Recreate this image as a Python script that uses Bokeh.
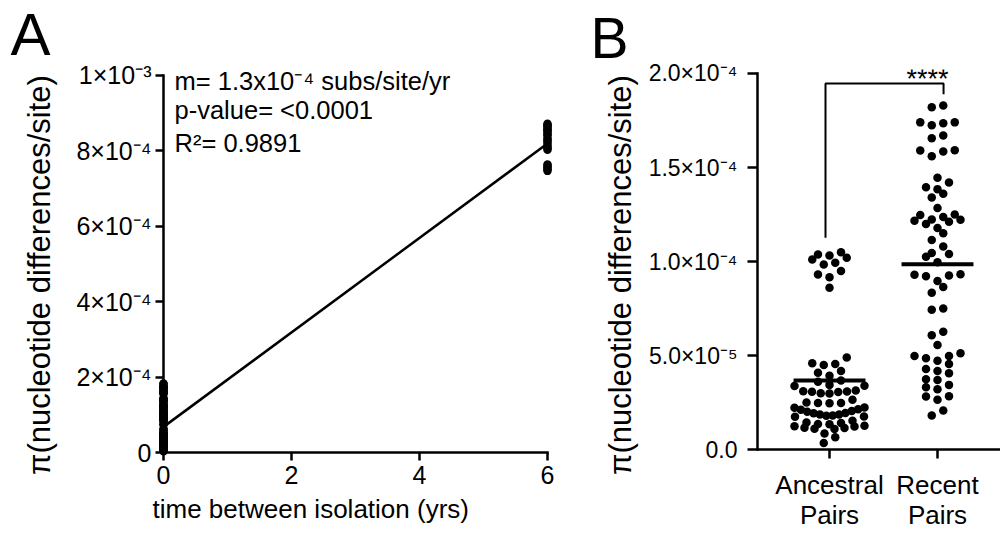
import numpy as np
from bokeh.plotting import figure
from bokeh.models import Label, FixedTicker, LinearAxis, Title
from bokeh.layouts import row
from bokeh.embed import file_html
from bokeh.resources import INLINE

FONT = "Liberation Sans"

# ---------------- data ----------------
# panel B: nucleotide diversity pi (x1e-5 subs/site)
ancestral_pairs = np.array([
    10.49, 10.32, 10.11, 9.84, 9.93, 10.2, 10.37, 9.31, 9.17, 9.49, 8.61,
    4.9, 4.5, 4.55, 4.59, 4.09, 4.18, 3.92,
    3.67, 3.44, 3.4, 3.61, 3.38,
    3.07, 3.09, 3.06, 3.1, 3.14,
    3.0, 2.98,
    2.5, 2.47, 2.46, 2.48, 2.65,
    2.24, 2.12, 2.01, 1.94, 1.87, 1.81, 1.76, 1.75, 1.8, 1.86, 1.93, 2.05, 2.15, 2.23,
    1.53, 1.44, 1.36, 1.23, 1.15, 1.24, 1.27, 1.35, 1.41,
    0.85, 1.11, 1.1, 1.16,
    0.65, 0.35]) * 1e-5

recent_pairs = np.array([
    18.3, 18.2,
    17.4, 17.35, 17.25, 17.4,
    16.55, 16.7,
    15.9, 15.85, 15.6, 15.92,
    14.45, 14.2, 13.85, 13.95, 13.6, 13.4,
    12.85,
    12.5, 12.22, 12.0, 12.17, 12.12, 12.24, 12.37, 12.48,
    11.78, 11.5, 11.15,
    10.8, 10.45, 10.25, 10.4,
    9.96,
    9.3, 9.22, 9.26, 9.32, 8.96, 8.64, 8.34,
    7.5, 7.44,
    6.26, 6.08, 5.56,
    5.12, 4.97, 4.72, 4.85, 4.98, 4.55,
    4.18, 4.06, 4.29,
    3.7, 3.74,
    3.21, 3.32, 3.44,
    2.82, 2.65, 2.83,
    1.81, 2.08]) * 1e-5

# panel A: pairs separated by 6 years of isolation (x1e-4 subs/site)
six_year_pairs = np.array([
    8.72, 8.68, 8.66, 8.61, 8.57, 8.55, 8.49, 8.44, 8.40, 8.33, 8.29,
    8.24, 8.18, 8.12, 8.07, 8.03, 7.64, 7.60, 7.55, 7.51, 7.47]) * 1e-4

time_isolation = [0, 6]  # years between isolation for the two groups in panel A

a_y_ticks = [0, 0.0002, 0.0004, 0.0006, 0.0008, 0.001]
a_y_labels = ["0", "2×10⁻⁴", "4×10⁻⁴", "6×10⁻⁴", "8×10⁻⁴", "1×10⁻³"]
a_x_ticks = [0, 2, 4, 6]
b_y_ticks = [0, 0.00005, 0.0001, 0.00015, 0.0002]
b_y_labels = ["0.0", "5.0×10⁻⁵", "1.0×10⁻⁴", "1.5×10⁻⁴", "2.0×10⁻⁴"]
b_categories = ["Ancestral\nPairs", "Recent\nPairs"]
stats_lines = ["m= 1.3x10⁻⁴ subs/site/yr", "p-value= <0.0001", "R²= 0.9891"]
y_title = "π(nucleotide differences/site)"
x_title_a = "time between isolation (yrs)"
signif = "****"

DOT = 8.5


def style_axis(ax, size, tick_out=8, tick_in=0, standoff=4):
    ax.axis_line_width = 2.5
    ax.axis_line_color = "black"
    ax.axis_line_cap = "square"
    ax.major_tick_line_width = 2.5
    ax.major_tick_line_color = "black"
    ax.major_tick_out = tick_out
    ax.major_tick_in = tick_in
    ax.minor_tick_line_color = None
    ax.major_label_text_font = FONT
    ax.major_label_text_font_size = size
    ax.major_label_text_color = "black"
    ax.major_label_text_line_height = 1.0
    ax.major_label_standoff = standoff


def labels_only(ax):
    ax.axis_line_color = None
    ax.major_tick_line_color = None
    ax.minor_tick_line_color = None
    ax.major_tick_out = 0
    ax.major_tick_in = 0


def line_axis(ticks, bounds, tick_len=8):
    # axis line + ticks drawn at the data origin (fixed location); carries no text
    ax = LinearAxis(ticker=FixedTicker(ticks=ticks), bounds=bounds, fixed_location=0)
    style_axis(ax, "10px", tick_out=0, tick_in=tick_len, standoff=0)
    ax.major_label_overrides = {t: "" for t in ticks}
    ax.major_label_text_color = None
    return ax


def side_title(text, size, align, offset, standoff, valign):
    return Title(text=text, text_font=FONT, text_font_size=size, text_font_style="normal",
                 text_color="black", align=align, offset=offset, standoff=standoff,
                 vertical_align=valign)


def scatter_rows(vals, px_per_val, px_per_x, s_max=11.5, half_w=35.0):
    """GraphPad-like column scatter: points binned into rows, spread centred."""
    order = np.argsort(vals, kind="stable")
    ypix = vals * px_per_val
    offs = np.zeros(len(vals))
    rows, cur = [], [order[0]]
    for idx in order[1:]:
        if ypix[idx] - ypix[cur[0]] < DOT:
            cur.append(idx)
        else:
            rows.append(cur)
            cur = [idx]
    rows.append(cur)
    for r in rows:
        n = len(r)
        if n == 1:
            continue
        s = min(s_max, 2 * half_w / (n - 1))
        slots = (np.arange(n) - (n - 1) / 2) * s
        slot_order = np.argsort(np.abs(slots), kind="stable")
        for k, idx in enumerate(r):
            offs[idx] = slots[slot_order[k]] / px_per_x
    return offs


def base_style(p):
    p.outline_line_color = None
    p.grid.visible = False
    p.background_fill_color = "white"
    p.border_fill_color = "white"


# both frames share top (68) and bottom (463) edges in the row layout
# ---------------- panel A ----------------
pA = figure(width=575, height=533, x_range=(-0.15625, 6.125), y_range=(-2.639e-5, 1.01583e-3),
            output_backend="svg", toolbar_location=None,
            min_border_left=153, min_border_right=20, min_border_top=68, min_border_bottom=70)
base_style(pA)
pA.title = side_title("A", "60px", "left", -143, 0, "top")

# axes at the frame edges carry the tick labels only
style_axis(pA.yaxis[0], "25px", standoff=2)
labels_only(pA.yaxis[0])
pA.yaxis.ticker = FixedTicker(ticks=a_y_ticks)
pA.yaxis.major_label_overrides = dict(zip(a_y_ticks, a_y_labels))
style_axis(pA.xaxis[0], "25px", standoff=3)
labels_only(pA.xaxis[0])
pA.xaxis.ticker = FixedTicker(ticks=a_x_ticks)

# axis lines crossing at the data origin
pA.add_layout(line_axis(a_y_ticks, (0, 0.001)), "right")
pA.add_layout(line_axis(a_x_ticks, (0, 6)), "above")
pA.add_layout(side_title(y_title, "31px", "left", -12.5, 33, "bottom"), "left")
pA.add_layout(side_title(x_title_a, "26px", "left", -1, 15, "top"), "below")

pairs_t0 = np.concatenate([ancestral_pairs, recent_pairs])
xs_all = np.concatenate([np.full(len(pairs_t0), time_isolation[0], dtype=float),
                         np.full(len(six_year_pairs), time_isolation[1], dtype=float)])
ys_all = np.concatenate([pairs_t0, six_year_pairs])
slope, intercept = np.polyfit(xs_all, ys_all, 1)
line_x = np.array(time_isolation, dtype=float)
pA.line(line_x, intercept + slope * line_x, line_width=2.5, color="black")
pA.scatter(xs_all, ys_all, size=DOT, color="black", line_color=None)

for txt, yb in zip(stats_lines, [382, 353, 320]):
    pA.add_layout(Label(x=21, y=yb, x_units="screen", y_units="screen", text=txt,
                        text_font=FONT, text_font_size="25.5px", text_color="black",
                        text_baseline="alphabetic", text_align="left"))

# ---------------- panel B ----------------
pB = figure(width=425, height=533, x_range=(0.33333, 2.58333), y_range=(-6.878e-6, 2.02116e-4),
            output_backend="svg", toolbar_location=None,
            min_border_left=182, min_border_right=0, min_border_top=68, min_border_bottom=70)
base_style(pB)
pB.title = side_title("B", "57px", "left", -167, 0, "bottom")

style_axis(pB.yaxis[0], "23px", tick_out=10, standoff=10)
pB.yaxis.ticker = FixedTicker(ticks=b_y_ticks)
pB.yaxis.major_label_overrides = dict(zip(b_y_ticks, b_y_labels))
pB.yaxis.bounds = (0, 0.0002)
cat_pos = [1, 2]
style_axis(pB.xaxis[0], "26px", standoff=7)
labels_only(pB.xaxis[0])
pB.xaxis.ticker = FixedTicker(ticks=cat_pos)
pB.xaxis.major_label_overrides = dict(zip(cat_pos, b_categories))
pB.add_layout(line_axis(cat_pos, (0.33333, 2.58333), tick_len=9), "above")
pB.add_layout(side_title(y_title, "31px", "left", -12.5, 16, "bottom"), "left")

PX_Y_B = 1.89e6
PX_X_B = 108.0
for pos, vals in zip(cat_pos, [ancestral_pairs, recent_pairs]):
    offs = scatter_rows(vals, PX_Y_B, PX_X_B)
    pB.scatter(pos + offs, vals, size=DOT, color="black", line_color=None)
    m = float(np.mean(vals))
    pB.segment(x0=pos - 0.333, x1=pos + 0.333, y0=m, y1=m, line_width=4, color="black")

# significance bracket
br_x = [0.963, 0.963, 2.056, 2.056]
br_y = [1.127e-4, 1.947e-4, 1.947e-4, 1.889e-4]
pB.line(br_x, br_y, line_width=2, color="black")
pB.add_layout(Label(x=1.907, y=1.968e-4, text=signif, text_font=FONT, text_font_size="27px",
                    text_color="black", text_align="center", text_baseline="alphabetic"))

layout = row(pA, pB)
open("out.html", "w").write(file_html(layout, INLINE))
